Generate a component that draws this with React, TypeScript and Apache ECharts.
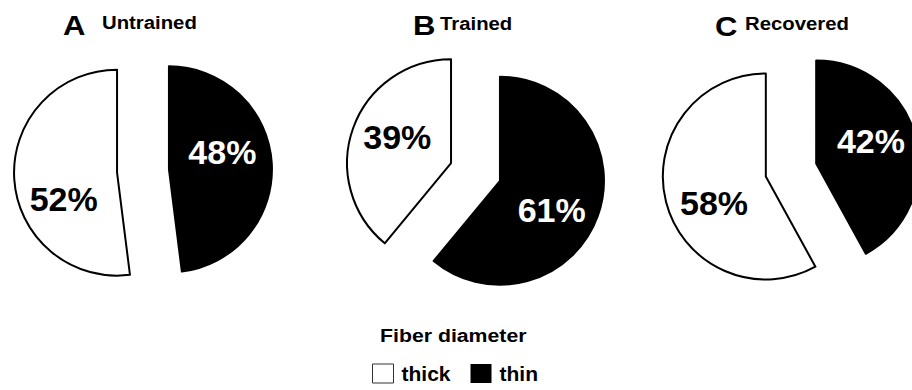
import React, { useEffect, useRef } from "react";
import * as echarts from "echarts";

const categories = ["thick", "thin"];
const panelLetters = ["A", "B", "C"];
const panelNames = ["Untrained", "Trained", "Recovered"];
const untrainedValues = [52, 48];
const trainedValues = [39, 61];
const recoveredValues = [58, 42];
const legendTitle = "Fiber diameter";

const allValues = [untrainedValues, trainedValues, recoveredValues];

// layout (not data)
const pieCenters = [
  [143, 171],
  [475.5, 172],
  [791, 170],
];
const pieRadius = [103, 104, 103];
const labelShift = [
  [
    [1, 23],
    [-1, -14],
  ],
  [
    [-2, -8],
    [0, 11],
  ],
  [
    [1, 13],
    [2, -9],
  ],
];
// [left, vertical middle]
const letterPos = [
  [63, 25.5],
  [413, 26],
  [715, 26.5],
];
const namePos = [
  [102, 22.5],
  [440, 23.5],
  [745, 23.5],
];

const sliceColors = ["#ffffff", "#000000"];
const labelColors = ["#000000", "#ffffff"];
const FONT = "'Liberation Sans', Arial, Helvetica, sans-serif";

export default function App() {
  const ref = useRef<HTMLDivElement>(null);

  useEffect(() => {
    if (!ref.current) return;
    const chart = echarts.init(ref.current, undefined, { renderer: "svg" });

    const series = allValues.map((vals, si) => ({
      type: "pie",
      center: pieCenters[si],
      radius: pieRadius[si],
      startAngle: 90,
      clockwise: false,
      selectedMode: "multiple",
      selectedOffset: 26,
      avoidLabelOverlap: false,
      emphasis: { disabled: true },
      label: {
        show: true,
        position: "inside",
        formatter: "{c}%",
        fontFamily: FONT,
        fontWeight: "bold",
        fontSize: 34,
      },
      labelLine: { show: false },
      labelLayout: (params: any) => {
        const s = labelShift[si][params.dataIndex];
        return { dx: s[0], dy: s[1] };
      },
      data: categories.map((name, i) => ({
        name,
        value: vals[i],
        selected: true,
        itemStyle: {
          color: sliceColors[i],
          borderColor: "#000",
          borderWidth: 2,
        },
        label: { color: labelColors[i] },
      })),
    }));

    const graphics: any[] = [];
    panelLetters.forEach((l, i) => {
      graphics.push({
        type: "text",
        x: letterPos[i][0],
        y: letterPos[i][1],
        scaleX: 1.15,
        style: {
          text: l,
          font: `bold 27px ${FONT}`,
          fill: "#000",
          align: "left",
          verticalAlign: "middle",
        },
      });
      graphics.push({
        type: "text",
        x: namePos[i][0],
        y: namePos[i][1],
        scaleX: 1.13,
        style: {
          text: panelNames[i],
          font: `bold 18px ${FONT}`,
          fill: "#000",
          align: "left",
          verticalAlign: "middle",
        },
      });
    });
    graphics.push({
      type: "text",
      x: 380,
      y: 335,
      scaleX: 1.12,
      style: {
        text: legendTitle,
        font: `bold 19px ${FONT}`,
        fill: "#000",
        align: "left",
        verticalAlign: "middle",
      },
    });

    chart.setOption({
      animation: false,
      backgroundColor: "#ffffff",
      legend: {
        left: 372,
        top: 363,
        padding: 0,
        orient: "horizontal",
        itemWidth: 21,
        itemHeight: 19,
        itemGap: 20,
        selectedMode: false,
        textStyle: {
          fontFamily: FONT,
          fontWeight: "bold",
          fontSize: 21,
          color: "#000",
          padding: [0, 0, 0, 3],
        },
        data: [
          {
            name: categories[0],
            icon: "rect",
            itemStyle: { color: "#fff", borderColor: "#333", borderWidth: 1 },
          },
          {
            name: categories[1],
            icon: "rect",
            itemStyle: { color: "#000", borderColor: "#000", borderWidth: 0 },
          },
        ],
      },
      graphic: graphics,
      series,
    });

    return () => chart.dispose();
  }, []);

  return (
    <div
      ref={ref}
      style={{ position: "fixed", left: 0, top: 0, width: 912, height: 390 }}
    />
  );
}
